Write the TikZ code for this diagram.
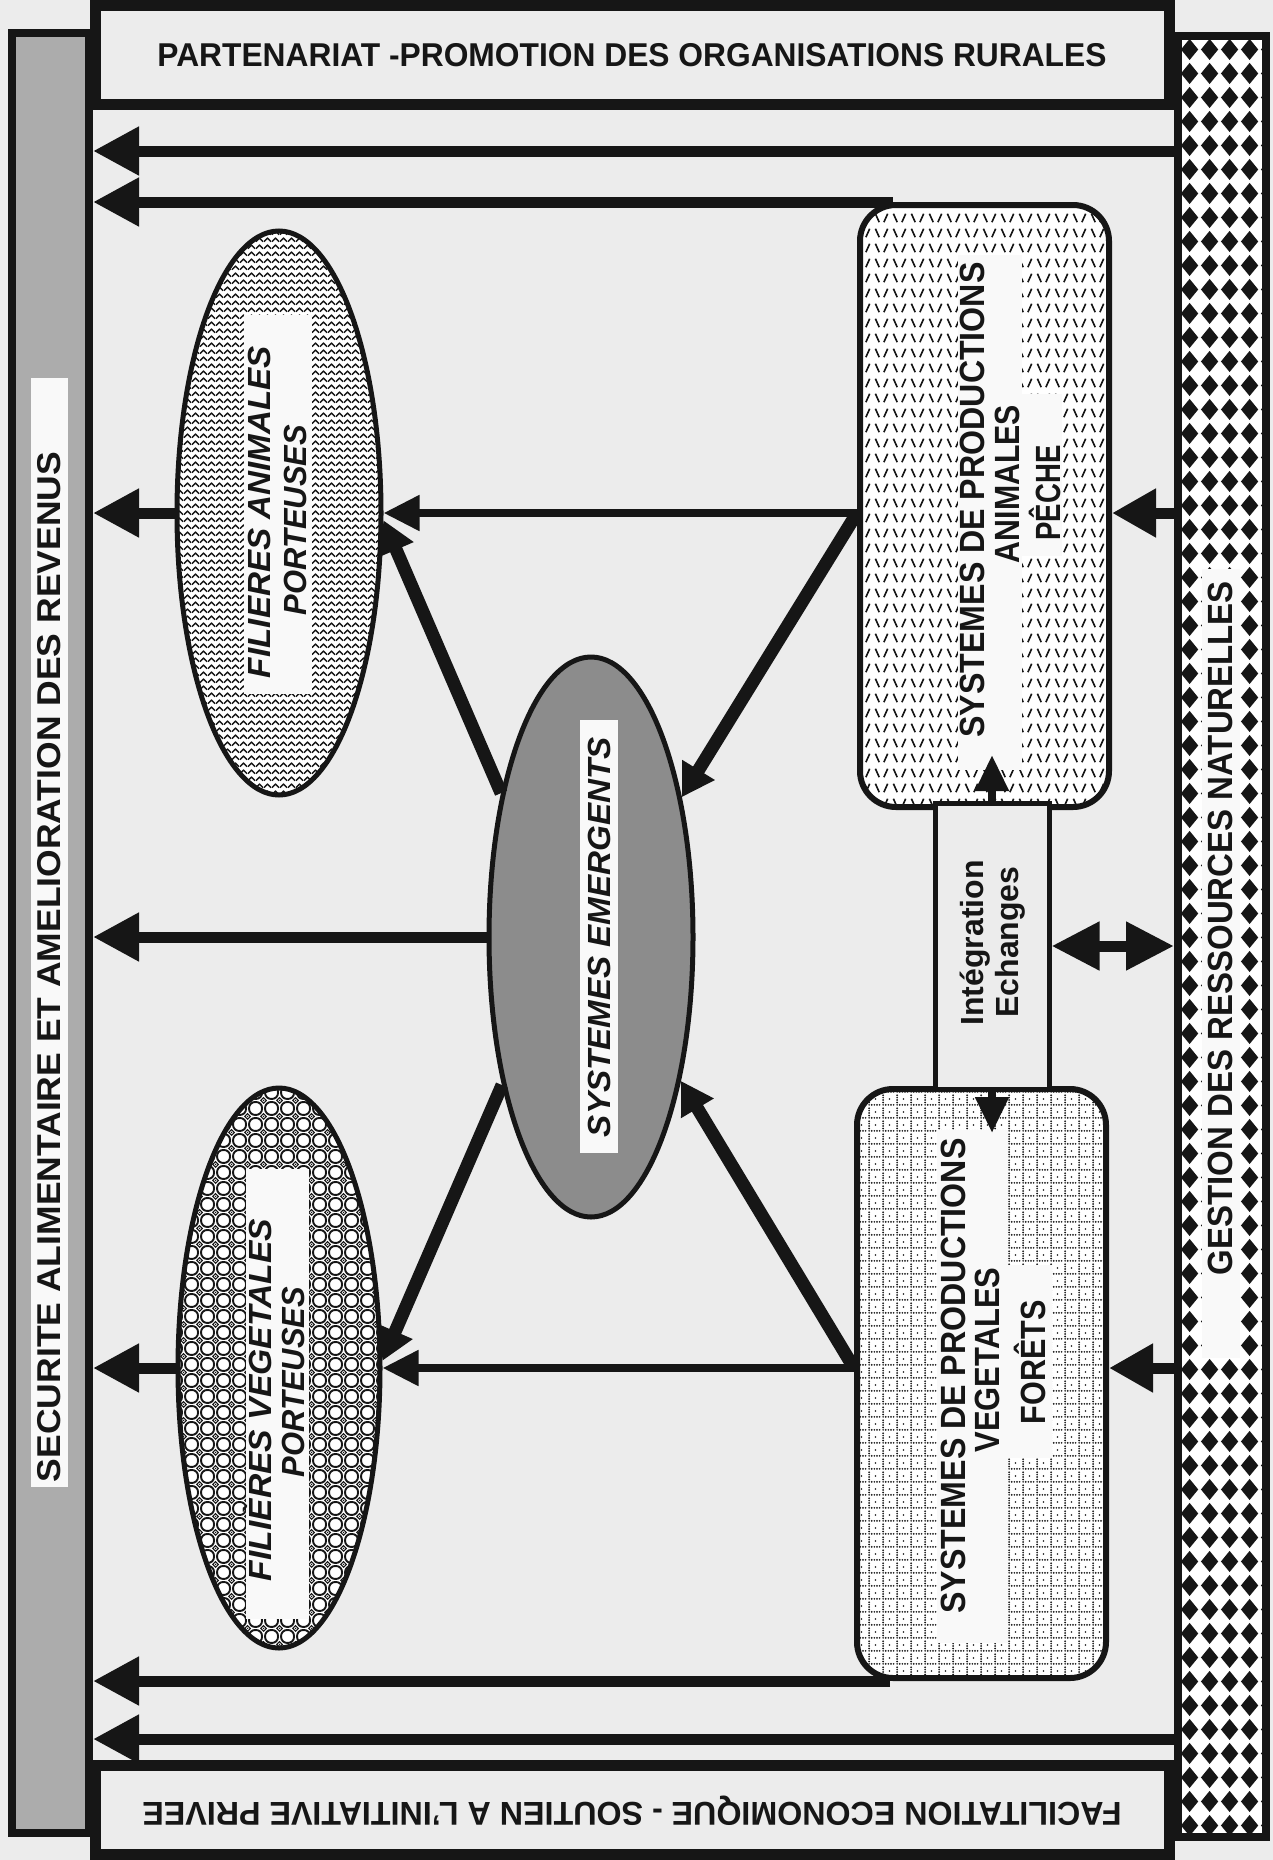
\documentclass[tikz,border=0pt]{standalone}
\usepackage{fontspec}
\usepackage{graphicx}
\setmainfont{Liberation Sans}
\usetikzlibrary{arrows.meta,shapes.geometric,patterns.meta}
\definecolor{paper}{RGB}{236,236,236}
\definecolor{ink}{RGB}{22,22,22}
\definecolor{strip}{RGB}{249,249,249}
\definecolor{lgray}{RGB}{172,172,172}
\definecolor{sgray}{RGB}{140,140,140}
\newcommand\fitbox[2]{\resizebox{#1pt}{\height}{#2}}

\pgfdeclarepattern{name=harlequin,
  bottom left={\pgfpoint{0pt}{0pt}}, top right={\pgfpoint{20pt}{24pt}},
  tile size={\pgfpoint{20pt}{24pt}},
  code={\pgfpathmoveto{\pgfpoint{10pt}{1pt}}\pgfpathlineto{\pgfpoint{19pt}{12pt}}%
    \pgfpathlineto{\pgfpoint{10pt}{23pt}}\pgfpathlineto{\pgfpoint{1pt}{12pt}}%
    \pgfpathclose\pgfusepath{fill}}}
\pgfdeclarepattern{name=slashes,
  bottom left={\pgfpoint{0pt}{0pt}}, top right={\pgfpoint{18pt}{15pt}},
  tile size={\pgfpoint{18pt}{15pt}},
  code={\pgfsetlinewidth{1.7pt}%
    \pgfpathmoveto{\pgfpoint{2pt}{3pt}}\pgfpathlineto{\pgfpoint{6pt}{12pt}}%
    \pgfpathmoveto{\pgfpoint{12pt}{12pt}}\pgfpathlineto{\pgfpoint{16pt}{3pt}}%
    \pgfusepath{stroke}}}
\pgfdeclarepattern{name=dotgrid,
  bottom left={\pgfpoint{0pt}{0pt}}, top right={\pgfpoint{14pt}{13pt}},
  tile size={\pgfpoint{14pt}{13pt}},
  code={%
    \pgfpathcircle{\pgfpoint{1.2pt}{1.2pt}}{1pt}%
    \pgfpathcircle{\pgfpoint{4pt}{1.2pt}}{1pt}%
    \pgfpathcircle{\pgfpoint{6.8pt}{1.2pt}}{1pt}%
    \pgfpathcircle{\pgfpoint{9.6pt}{1.2pt}}{1pt}%
    \pgfpathcircle{\pgfpoint{12.4pt}{1.2pt}}{1pt}%
    \pgfpathcircle{\pgfpoint{1.2pt}{3.8pt}}{1pt}%
    \pgfpathcircle{\pgfpoint{1.2pt}{6.4pt}}{1pt}%
    \pgfpathcircle{\pgfpoint{1.2pt}{9pt}}{1pt}%
    \pgfpathcircle{\pgfpoint{1.2pt}{11.6pt}}{1pt}%
    \pgfpathcircle{\pgfpoint{8pt}{7.5pt}}{1pt}%
    \pgfusepath{fill}}}
\pgfdeclarepattern{name=waves,
  bottom left={\pgfpoint{0pt}{0pt}}, top right={\pgfpoint{8pt}{7pt}},
  tile size={\pgfpoint{8pt}{7pt}},
  code={\pgfsetlinewidth{1.6pt}%
    \pgfpathmoveto{\pgfpoint{0pt}{1.5pt}}%
    \pgfpathcurveto{\pgfpoint{2pt}{1.5pt}}{\pgfpoint{2pt}{5.5pt}}{\pgfpoint{4pt}{5.5pt}}%
    \pgfpathcurveto{\pgfpoint{6pt}{5.5pt}}{\pgfpoint{6pt}{1.5pt}}{\pgfpoint{8pt}{1.5pt}}%
    \pgfusepath{stroke}}}
\pgfdeclarepattern{name=net,
  bottom left={\pgfpoint{0pt}{0pt}}, top right={\pgfpoint{16pt}{16pt}},
  tile size={\pgfpoint{16pt}{16pt}},
  code={\pgfsetlinewidth{2pt}%
    \pgfpathcircle{\pgfpoint{0pt}{0pt}}{6.4pt}%
    \pgfpathcircle{\pgfpoint{16pt}{0pt}}{6.4pt}%
    \pgfpathcircle{\pgfpoint{0pt}{16pt}}{6.4pt}%
    \pgfpathcircle{\pgfpoint{16pt}{16pt}}{6.4pt}%
    \pgfusepath{stroke}%
    \pgfsetlinewidth{1.1pt}%
    \pgfpathmoveto{\pgfpoint{8pt}{5pt}}\pgfpathlineto{\pgfpoint{11pt}{8pt}}%
    \pgfpathlineto{\pgfpoint{8pt}{11pt}}\pgfpathlineto{\pgfpoint{5pt}{8pt}}\pgfpathclose
    \pgfusepath{stroke}%
    \pgfpathcircle{\pgfpoint{8pt}{8pt}}{0.9pt}\pgfusepath{fill}}}

\begin{document}
\begin{tikzpicture}[x=1pt,y=-1pt,
  banner/.style={draw=ink,line width=11pt,fill=paper,inner sep=0pt},
  sidebar/.style={draw=ink,line width=8pt,inner sep=0pt},
  prodbox/.style={draw=ink,line width=6pt,rounded corners=36pt,inner sep=0pt,preaction={fill=white}},
  oval/.style={ellipse,draw=ink,line width=5pt,inner sep=0pt},
  txt/.style={inner sep=0pt,text=ink},
  headtxt/.style={txt,font=\bfseries\fontsize{33}{33}\selectfont},
  bartxt/.style={txt,font=\bfseries\fontsize{33}{33}\selectfont,rotate=90},
  boxtxt/.style={txt,font=\bfseries\fontsize{35}{35}\selectfont,rotate=90},
  ovaltxt/.style={txt,font=\bfseries\itshape\fontsize{32}{32}\selectfont,rotate=90},
  bigarrow/.style={draw=ink,line width=11pt,-{Triangle[length=46pt,width=46pt]}},
  midarrow/.style={draw=ink,line width=8pt,-{Triangle[length=36pt,width=34pt]}},
  diagarrow/.style={draw=ink,line width=13pt,-{Triangle[length=32pt,width=36pt]}},
  sidearrow/.style={draw=ink,line width=11pt,-{Triangle[length=44pt,width=46pt]}},
  dblarrow/.style={draw=ink,line width=11pt,{Triangle[length=48pt,width=46pt]}-{Triangle[length=48pt,width=46pt]}},
  vertarrow/.style={draw=ink,line width=8pt,-{Triangle[length=36pt,width=32pt]}}
]
\useasboundingbox (0,0) rectangle (1273,1860);
\fill[paper] (0,0) rectangle (1273,1860);

% frame elements
\node[banner,minimum width=1074pt,minimum height=98pt] (top) at (632,55) {};
\node[banner,minimum width=1074pt,minimum height=89pt] (bot) at (632,1809.5) {};
\node[sidebar,fill=lgray,minimum width=77pt,minimum height=1800pt] (lbar) at (50.5,933) {};
\node[sidebar,preaction={fill=white},pattern=harlequin,pattern color=ink,minimum width=88pt,minimum height=1801pt] (rbar) at (1222,936.5) {};

% production boxes and ovals
\node[prodbox,pattern=slashes,pattern color=ink,minimum width=249pt,minimum height=602pt] (anim) at (984.5,506) {};
\node[prodbox,pattern=dotgrid,pattern color=ink,minimum width=249pt,minimum height=589pt] (veg) at (981.5,1383.5) {};
\node[oval,preaction={fill=white},pattern=waves,pattern color=ink,minimum width=204pt,minimum height=564pt] (fa) at (279,513) {};
\node[oval,fill=sgray,minimum width=204pt,minimum height=560pt] (se) at (591,937) {};
\node[oval,preaction={fill=white},pattern=net,pattern color=ink,minimum width=202pt,minimum height=560pt] (fv) at (279,1368) {};
\node[draw=ink,line width=5pt,fill=paper,inner sep=0pt,minimum width=114pt,minimum height=286pt] (integ) at (992,946) {};

% white strips behind texts
\fill[strip] (31,378) rectangle (68,1487);
\fill[strip] (1202,569) rectangle (1240,1358);
\fill[strip] (958,255) rectangle (1022,770);
\fill[strip] (1022,394) rectangle (1062,556);
\fill[strip] (937,1130) rectangle (1008,1643);
\fill[strip] (1008,1265) rectangle (1052,1458);
\fill[strip] (244,315) rectangle (312,694);
\fill[strip] (246,1169) rectangle (309,1619);
\fill[strip] (580,720) rectangle (618,1153);

% texts
\node[headtxt] (ttop) at (632,55) {\fitbox{949}{PARTENARIAT -PROMOTION DES ORGANISATIONS RURALES}};
\node[headtxt,rotate=180] (tbot) at (632,1811) {\fitbox{979}{FACILITATION ECONOMIQUE - SOUTIEN A L'INITIATIVE PRIVEE}};
\node[bartxt] (tl) at (49,967) {\fitbox{1030}{SECURITE ALIMENTAIRE ET AMELIORATION DES REVENUS}};
\node[bartxt,font=\bfseries\fontsize{35}{35}\selectfont] (tr) at (1220,928) {\fitbox{694}{GESTION DES RESSOURCES NATURELLES}};

\node[boxtxt] (ta1) at (972,500) {\fitbox{475}{SYSTEMES DE PRODUCTIONS}};
\node[boxtxt] (ta2) at (1007,484) {\fitbox{158}{ANIMALES}};
\node[boxtxt] (ta3) at (1045,493) {\fitbox{95}{PÊCHE}};

\node[boxtxt] (tv1) at (953,1376) {\fitbox{475}{SYSTEMES DE PRODUCTIONS}};
\node[boxtxt] (tv2) at (987,1360) {\fitbox{185}{VEGETALES}};
\node[boxtxt] (tv3) at (1030,1362) {\fitbox{124}{FORÊTS}};

\node[txt,font=\bfseries\fontsize{32}{32}\selectfont,rotate=90] (ti1) at (975,943) {Intégration};
\node[txt,font=\bfseries\fontsize{32}{32}\selectfont,rotate=90] (ti2) at (1010,942) {Echanges};

\node[ovaltxt] (tfa1) at (259,512) {\fitbox{332}{FILIERES ANIMALES}};
\node[ovaltxt] (tfa2) at (295,520) {\fitbox{190}{PORTEUSES}};
\node[ovaltxt] (tfv1) at (258,1400) {\fitbox{362}{FILIÈRES VEGETALES}};
\node[ovaltxt] (tfv2) at (293,1382) {\fitbox{190}{PORTEUSES}};
\node[ovaltxt] (tse) at (599,937) {\fitbox{400}{SYSTEMES EMERGENTS}};

% connectors
\coordinate (yA) at (0,151);
\coordinate (yB) at (0,1739);
\coordinate (tipU) at (992,755);
\coordinate (tipD) at (992,1133);
\draw[bigarrow] (rbar.west |- yA) -- (lbar.east |- yA);
\draw[bigarrow] ([xshift=36pt]anim.north west) -- (lbar.east |- anim.north);
\draw[bigarrow] ([xshift=36pt]veg.south west) -- (lbar.east |- veg.south);
\draw[bigarrow] (rbar.west |- yB) -- (lbar.east |- yB);

\draw[midarrow] (anim.west |- fa.east) -- (fa.east);
\draw[bigarrow] (fa.west) -- (lbar.east |- fa.west);
\draw[diagarrow] (se.122) -- (fa.-4);
\draw[diagarrow] (anim.west |- fa.east) -- (se.57);
\draw[bigarrow] (se.west) -- (lbar.east |- se.west);
\draw[diagarrow] (veg.west |- fv.east) -- (se.-58);
\draw[diagarrow] (se.-121) -- (fv.4);
\draw[midarrow] (veg.west |- fv.east) -- (fv.east);
\draw[bigarrow] (fv.west) -- (lbar.east |- fv.west);
\draw[sidearrow] (rbar.west |- fa.east) -- (anim.east |- fa.east);
\draw[sidearrow] (rbar.west |- fv.east) -- (veg.east |- fv.east);
\draw[dblarrow] (integ.east) -- (rbar.west |- integ.east);
\draw[vertarrow] (integ.north) -- (tipU);
\draw[vertarrow] (integ.south) -- (tipD);
\end{tikzpicture}
\end{document}
